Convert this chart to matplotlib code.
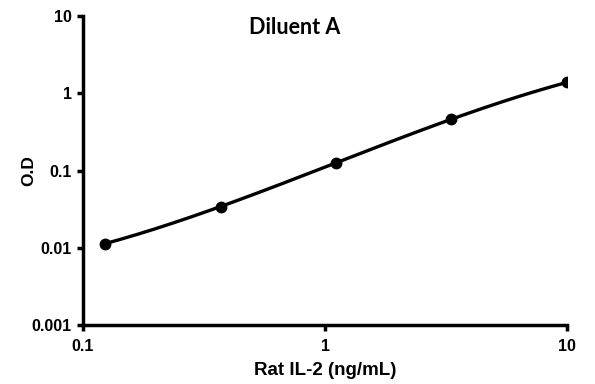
import numpy as np
import matplotlib.pyplot as plt

plt.rcParams['font.family'] = ['Liberation Sans', 'DejaVu Sans']
plt.rcParams['font.weight'] = 'bold'

# Standard curve data
conc = [0.123, 0.37, 1.11, 3.33, 10.0]  # Rat IL-2 (ng/mL)
od = [0.0113, 0.034, 0.127, 0.46, 1.39]

# Smooth fit in log-log space
lx, ly = np.log10(conc), np.log10(od)
coef = np.polyfit(lx, ly, 3)
xs = np.linspace(lx.min(), lx.max(), 200)
ys = np.polyval(coef, xs)

fig = plt.figure(figsize=(5.95, 3.84), dpi=100)
ax = fig.add_axes([0.1395, 0.1536, 0.8135, 0.8044])

ax.plot(10**xs, 10**ys, color='black', lw=2.4)
ax.plot(conc, od, 'o', color='black', ms=7.5)

ax.set_xscale('log')
ax.set_yscale('log')
ax.set_xlim(0.1, 10)
ax.set_ylim(0.001, 10)
ax.set_xticks([0.1, 1, 10])
ax.set_xticklabels(['0.1', '1', '10'])
ax.set_yticks([0.001, 0.01, 0.1, 1, 10])
ax.set_yticklabels(['0.001', '0.01', '0.1', '1', '10'])
ax.minorticks_off()

for s in ['top', 'right']:
    ax.spines[s].set_visible(False)
for s in ['left', 'bottom']:
    ax.spines[s].set_linewidth(2.5)
ax.tick_params(width=2.5, length=4, labelsize=11.5)
ax.tick_params(axis='x', pad=6)
ax.tick_params(axis='y', pad=4)

ax.set_xlabel('Rat IL-2 (ng/mL)', fontsize=13.5, fontweight='bold')
ax.set_ylabel('O.D', fontsize=12.5, fontweight='bold')
ax.xaxis.set_label_coords(0.5, -0.12)
ax.yaxis.set_label_coords(-0.097, 0.5)
ax.text(0.438, 0.964, 'Diluent A', transform=ax.transAxes, ha='center', va='center',
        fontsize=15.5, fontweight='bold', family=['Lato', 'DejaVu Sans'])

fig.savefig('out.png', dpi=100)
